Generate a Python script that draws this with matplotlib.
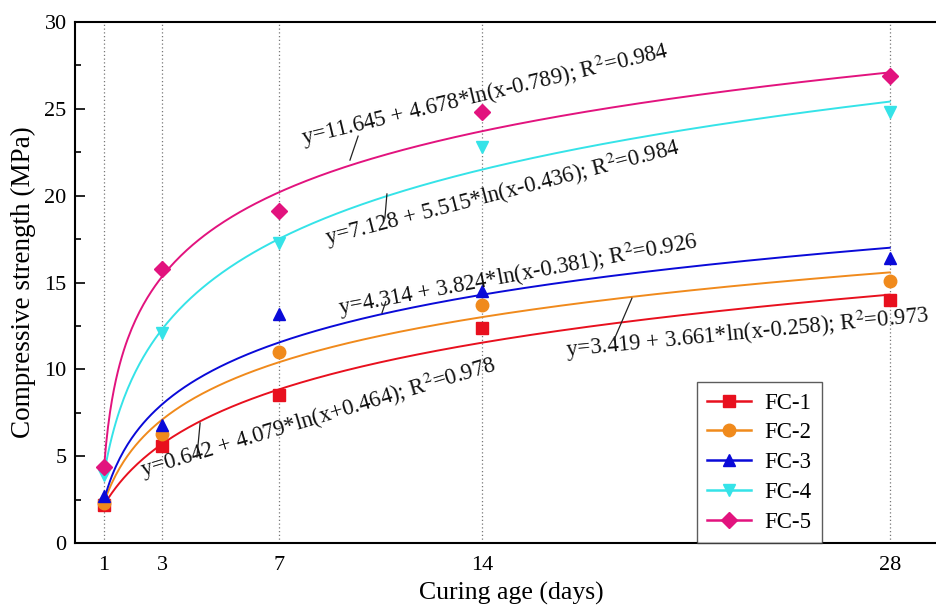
import numpy as np
import matplotlib
matplotlib.use('Agg')
import matplotlib.pyplot as plt

plt.rcParams['font.family'] = ['Liberation Serif', 'DejaVu Serif']
plt.rcParams['mathtext.fontset'] = 'stix'

# curing ages and measured strengths (MPa)
days = [1, 3, 7, 14, 28]
fc1 = [2.2, 5.6, 8.5, 12.4, 14.0]
fc2 = [2.3, 6.3, 11.0, 13.7, 15.1]
fc3 = [2.7, 6.8, 13.2, 14.5, 16.4]
fc4 = [3.9, 12.1, 17.3, 22.8, 24.8]
fc5 = [4.4, 15.8, 19.1, 24.8, 26.9]

# fit coefficients y = a + b*ln(x + c), as printed on the chart
fit_a = [0.642, 3.419, 4.314, 7.128, 11.645]
fit_b = [4.079, 3.661, 3.824, 5.515, 4.678]
fit_c = [0.464, -0.258, -0.381, -0.436, -0.789]
fit_r2 = ['0.978', '0.973', '0.926', '0.984', '0.984']

names = ['FC-1', 'FC-2', 'FC-3', 'FC-4', 'FC-5']
series = [fc1, fc2, fc3, fc4, fc5]
colors = ['#e8101e', '#f08a1c', '#0a0ad8', '#35e3e8', '#e2137e']
markers = ['s', 'o', '^', 'v', 'D']
msizes = [8, 9, 9, 9, 8]

# label placement: (x, y) start of baseline, rotation, leader line
lab_pos = [(2.34, 3.8, 16.7), (16.9, 10.7, 5.5), (9.1, 13.13, 10.6),
           (8.66, 17.16, 14.5), (7.84, 22.9, 13.5)]
leaders = [((4.30, 6.91), (4.19, 4.95)), ((19.14, 14.1), (18.52, 11.69)),
           ((10.55, 13.25), (10.68, 13.9)), ((10.72, 20.1), (10.65, 18.71)),
           ((9.45, 22.05), (9.73, 23.43))]

fig = plt.figure(figsize=(9.36, 6.14), dpi=100)
ax = fig.add_axes([0.0801, 0.1156, 0.9327, 0.8485])

for xv in days:
    ax.axvline(xv, color='#777777', ls=(0, (1, 2)), lw=0.9, zorder=0)

xs = np.linspace(1, 28, 400)
for i in range(5):
    fit = fit_a[i] + fit_b[i] * np.log(xs + fit_c[i])
    ax.plot(xs, fit, color=colors[i], lw=1.4, zorder=2)
    ax.plot(days, series[i], ls='none', marker=markers[i], ms=msizes[i],
            color=colors[i], zorder=3)
    # legend proxy
    ax.plot([], [], color=colors[i], lw=1.8, marker=markers[i], ms=msizes[i],
            label=names[i])

    sign = '+' if fit_c[i] > 0 else '-'
    txt = 'y=%.3f + %.3f*ln(x%s%.3f); R$^2$=%s' % (fit_a[i], fit_b[i], sign,
                                                    abs(fit_c[i]), fit_r2[i])
    tx, ty, rot = lab_pos[i]
    ax.text(tx, ty, txt, fontsize=16.3, rotation=rot, rotation_mode='anchor',
            ha='left', va='baseline', color='#111111', zorder=4)
    (x0, y0), (x1, y1) = leaders[i]
    ax.plot([x0, x1], [y0, y1], color='#222222', lw=0.9, zorder=4)

ax.set_xlim(0, 30)
ax.set_ylim(0, 30)
ax.set_xticks(days)
ax.set_yticks([0, 5, 10, 15, 20, 25, 30])
ax.set_yticks(np.arange(0, 30, 2.5), minor=True)
ax.tick_params(axis='x', length=0, labelsize=16, pad=9)
ax.tick_params(axis='y', which='major', direction='in', length=7, width=1.2,
               labelsize=16, pad=6)
ax.tick_params(axis='y', which='minor', direction='in', length=4, width=1.2)
ax.spines['right'].set_visible(False)
for s in ['left', 'bottom', 'top']:
    ax.spines[s].set_linewidth(1.5)

ax.set_xlabel('Curing age (days)', fontsize=18.5, labelpad=5)
ax.set_ylabel('Compressive strength (MPa)', fontsize=19.5, labelpad=6)

leg = ax.legend(loc='lower left', bbox_to_anchor=(0.7125, 0.0), fontsize=16.5,
                frameon=True, fancybox=False, edgecolor='#333333',
                handlelength=1.9, labelspacing=0.38, borderpad=0.45,
                handletextpad=0.6, borderaxespad=0)
leg.get_frame().set_linewidth(1.0)

fig.savefig('out.png', dpi=100)
